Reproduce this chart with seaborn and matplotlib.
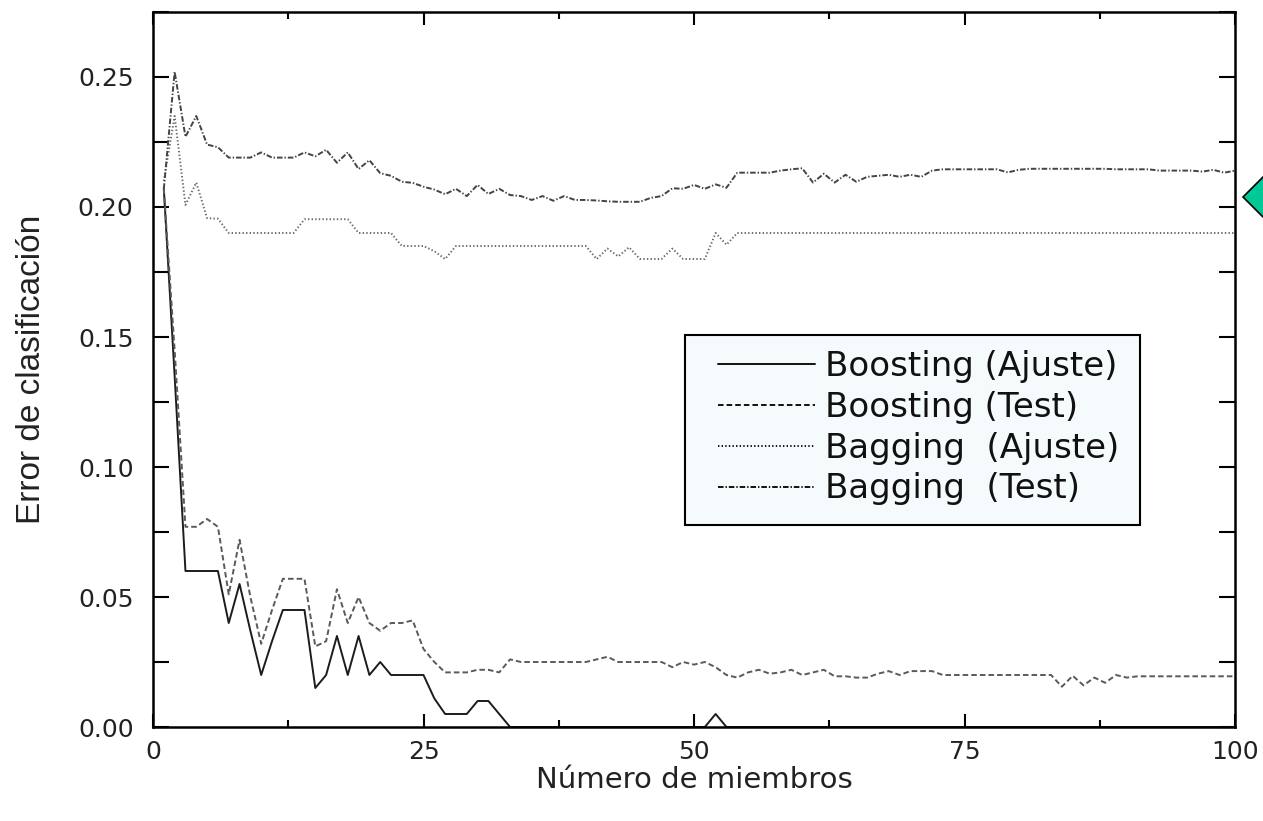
import matplotlib
matplotlib.use("Agg")
import matplotlib.pyplot as plt
from matplotlib.patches import Polygon, Rectangle
from matplotlib.ticker import MultipleLocator, FormatStrFormatter
import seaborn as sns

# Ensemble size (number of members)
members = list(range(1, 101))

# Classification error per ensemble size
boosting_ajuste = [
    0.207, 0.135, 0.060, 0.060, 0.060, 0.060, 0.040, 0.055, 0.037, 0.020,
    0.033, 0.045, 0.045, 0.045, 0.015, 0.020, 0.035, 0.020, 0.035, 0.020,
    0.025, 0.020, 0.020, 0.020, 0.020, 0.011, 0.005, 0.005, 0.005, 0.010,
    0.010, 0.005, 0.000, 0.000, 0.000, 0.000, 0.000, 0.000, 0.000, 0.000,
    0.000, 0.000, 0.000, 0.000, 0.000, 0.000, 0.000, 0.000, 0.000, 0.000,
    0.000, 0.005, 0.000, 0.000, 0.000, 0.000, 0.000, 0.000, 0.000, 0.000,
    0.000, 0.000, 0.000, 0.000, 0.000, 0.000, 0.000, 0.000, 0.000, 0.000,
    0.000, 0.000, 0.000, 0.000, 0.000, 0.000, 0.000, 0.000, 0.000, 0.000,
    0.000, 0.000, 0.000, 0.000, 0.000, 0.000, 0.000, 0.000, 0.000, 0.000,
    0.000, 0.000, 0.000, 0.000, 0.000, 0.000, 0.000, 0.000, 0.000, 0.000,
]

boosting_test = [
    0.207, 0.145, 0.077, 0.077, 0.080, 0.077, 0.051, 0.072, 0.050, 0.032,
    0.045, 0.057, 0.057, 0.057, 0.031, 0.033, 0.053, 0.040, 0.050, 0.040,
    0.037, 0.040, 0.040, 0.041, 0.030, 0.025, 0.021, 0.021, 0.021, 0.022,
    0.022, 0.021, 0.026, 0.025, 0.025, 0.025, 0.025, 0.025, 0.025, 0.025,
    0.026, 0.027, 0.025, 0.025, 0.025, 0.025, 0.025, 0.023, 0.025, 0.024,
    0.025, 0.023, 0.020, 0.019, 0.021, 0.022, 0.0205, 0.021, 0.022, 0.020,
    0.021, 0.022, 0.0195, 0.0195, 0.019, 0.019, 0.0205, 0.0215, 0.020, 0.0215,
    0.0215, 0.0215, 0.020, 0.020, 0.020, 0.020, 0.020, 0.020, 0.020, 0.020,
    0.020, 0.020, 0.020, 0.0155, 0.0197, 0.016, 0.019, 0.017, 0.020, 0.019,
    0.0195, 0.0195, 0.0195, 0.0195, 0.0195, 0.0195, 0.0195, 0.0195, 0.0195, 0.0195,
]

bagging_ajuste = [
    0.210, 0.235, 0.2008, 0.2094, 0.1957, 0.1955, 0.190, 0.190, 0.190, 0.190,
    0.190, 0.190, 0.190, 0.1953, 0.1953, 0.1953, 0.1953, 0.1953, 0.190, 0.190,
    0.190, 0.190, 0.185, 0.185, 0.185, 0.183, 0.180, 0.185, 0.185, 0.185,
    0.185, 0.185, 0.185, 0.185, 0.185, 0.185, 0.185, 0.185, 0.185, 0.185,
    0.180, 0.184, 0.181, 0.1845, 0.180, 0.180, 0.180, 0.184, 0.180, 0.180,
    0.180, 0.190, 0.1855, 0.190, 0.190, 0.190, 0.190, 0.190, 0.190, 0.190,
    0.190, 0.190, 0.190, 0.190, 0.190, 0.190, 0.190, 0.190, 0.190, 0.190,
    0.190, 0.190, 0.190, 0.190, 0.190, 0.190, 0.190, 0.190, 0.190, 0.190,
    0.190, 0.190, 0.190, 0.190, 0.190, 0.190, 0.190, 0.190, 0.190, 0.190,
    0.190, 0.190, 0.190, 0.190, 0.190, 0.190, 0.190, 0.190, 0.190, 0.190,
]

bagging_test = [
    0.207, 0.252, 0.227, 0.235, 0.224, 0.223, 0.219, 0.219, 0.219, 0.221,
    0.219, 0.219, 0.219, 0.221, 0.2195, 0.222, 0.217, 0.221, 0.2146, 0.218,
    0.213, 0.212, 0.2097, 0.2093, 0.2078, 0.2067, 0.2049, 0.207, 0.2042, 0.2085,
    0.205, 0.207, 0.2046, 0.2042, 0.2027, 0.2042, 0.2024, 0.2042, 0.2027, 0.2027,
    0.2025, 0.2022, 0.202, 0.202, 0.202, 0.2035, 0.2042, 0.2072, 0.207, 0.2085,
    0.207, 0.2087, 0.2074, 0.2132, 0.2132, 0.2132, 0.2132, 0.214, 0.2145, 0.2149,
    0.2094, 0.2128, 0.2094, 0.2124, 0.2097, 0.2116, 0.212, 0.2124, 0.2116, 0.2124,
    0.2116, 0.214, 0.2145, 0.2145, 0.2145, 0.2145, 0.2145, 0.2145, 0.2133, 0.2143,
    0.2147, 0.2147, 0.2147, 0.2147, 0.2147, 0.2147, 0.2147, 0.2147, 0.2145, 0.2145,
    0.2145, 0.2145, 0.214, 0.214, 0.214, 0.214, 0.2136, 0.2143, 0.2132, 0.214,
]

series_labels = ["Boosting (Ajuste)", "Boosting (Test)",
                 "Bagging  (Ajuste)", "Bagging  (Test)"]

x_ticks = [0, 25, 50, 75, 100]
y_ticks = [0.00, 0.05, 0.10, 0.15, 0.20, 0.25]

sns.set_theme(style="ticks")
plt.rcParams["font.family"] = ["DejaVu Sans"]
plt.rcParams["lines.scale_dashes"] = False

W, H = 1263, 821
AX_L, AX_R, AX_T, AX_B = 153, 1235, 12, 727
fig = plt.figure(figsize=(W / 100, H / 100), dpi=100)
fig.patch.set_facecolor("white")
ax = fig.add_axes([AX_L / W, 1 - AX_B / H, (AX_R - AX_L) / W, (AX_B - AX_T) / H])
ax.set_facecolor("white")


def px_to_axes(px, py):
    return (px - AX_L) / (AX_R - AX_L), (AX_B - py) / (AX_B - AX_T)


styles = [
    (boosting_ajuste, "#1c1c1c", None),
    (boosting_test, "#5a5a5a", (4.0, 2.2)),
    (bagging_ajuste, "#6a6a6a", (1.0, 1.6)),
    (bagging_test, "#444444", (4.0, 1.4, 1.0, 1.4)),
]

for (values, color, dash), label in zip(styles, series_labels):
    sns.lineplot(x=members, y=values, ax=ax, color=color, linewidth=1.4,
                 label=label, legend=True)
    if dash is not None:
        ax.lines[-1].set_dashes(dash)

ax.set_xlim(0, 100)
ax.set_ylim(0, 0.275)
ax.set_xticks(x_ticks)
ax.set_yticks(y_ticks)
ax.xaxis.set_minor_locator(MultipleLocator(12.5))
ax.yaxis.set_minor_locator(MultipleLocator(0.025))
ax.yaxis.set_major_formatter(FormatStrFormatter("%.2f"))

ax.tick_params(axis="both", which="both", direction="in", top=True,
               right=True, colors="black", width=1.5)
ax.tick_params(axis="x", which="major", length=9.5, pad=9, labelsize=18)
ax.tick_params(axis="x", which="minor", length=5)
ax.tick_params(axis="y", which="both", length=11.5)
ax.tick_params(axis="y", which="major", pad=14, labelsize=18)
ax.tick_params(axis="x", which="major", labelcolor="#222222")
ax.tick_params(axis="y", which="major", labelcolor="#222222")

for sp in ax.spines.values():
    sp.set_visible(True)
    sp.set_linewidth(1.8)
    sp.set_color("black")

ax.set_xlabel("Número de miembros", fontsize=21, color="#222222", labelpad=2)
ax.set_ylabel("Error de clasificación", fontsize=24, color="#222222",
              family=["Liberation Sans", "DejaVu Sans"], labelpad=22)

# legend box drawn as its own frame, entries placed inside it
x0, y0 = px_to_axes(685, 525)
x1, y1 = px_to_axes(1140, 335)
ax.add_patch(Rectangle((x0, y0), x1 - x0, y1 - y0, transform=ax.transAxes,
                       facecolor="#F5FBFD", edgecolor="black", lw=1.5,
                       zorder=4))

leg = ax.legend(loc="upper left", bbox_to_anchor=px_to_axes(718, 350),
                frameon=False, fontsize=24.5, handlelength=2.85,
                handletextpad=0.3, borderpad=0, labelspacing=0.23,
                borderaxespad=0)
leg.set_zorder(5)
for h in leg.get_lines():
    h.set_color("#111111")
for t in leg.get_texts():
    t.set_color("#111111")

# page navigation marker at the right border
diamond_px = [(1243, 197), (1265, 175), (1287, 197), (1265, 219)]
fig.patches.append(Polygon([(x / W, 1 - y / H) for x, y in diamond_px],
                           closed=True, transform=fig.transFigure,
                           facecolor="#00C897", edgecolor="black", lw=1.2))

fig.savefig("out.png", dpi=100)
